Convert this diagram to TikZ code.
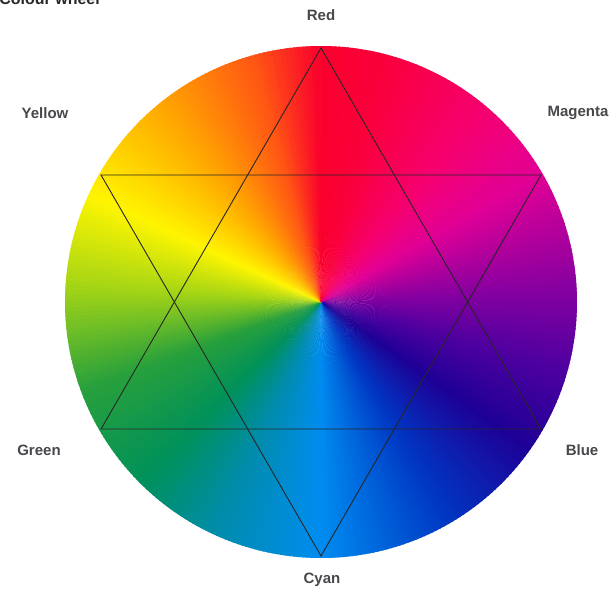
\documentclass[tikz,border=0pt]{standalone}
\usepackage{fontspec}
\setmainfont{Liberation Sans}
\definecolor{lbl}{RGB}{72,72,76}
\definecolor{ttl}{RGB}{40,40,44}
\definecolor{sA}{RGB}{250,0,45}
\definecolor{sB}{RGB}{250,0,60}
\definecolor{sC}{RGB}{245,0,110}
\definecolor{sD}{RGB}{225,0,150}
\definecolor{sE}{RGB}{140,0,160}
\definecolor{sF}{RGB}{80,0,160}
\definecolor{sG}{RGB}{30,0,150}
\definecolor{sH}{RGB}{0,55,195}
\definecolor{sI}{RGB}{0,140,240}
\definecolor{sJ}{RGB}{0,140,170}
\definecolor{sK}{RGB}{0,145,90}
\definecolor{sL}{RGB}{40,160,60}
\definecolor{sM}{RGB}{170,215,20}
\definecolor{sN}{RGB}{255,245,0}
\definecolor{sO}{RGB}{255,170,0}
\definecolor{sP}{RGB}{255,85,20}
\tikzset{
  lab/.style={font=\fontsize{15}{18}\selectfont\bfseries, text=lbl, inner sep=0pt},
  starline/.style={draw=black!85, line width=0.9pt, line join=miter}
}
\begin{document}
\begin{tikzpicture}[x=1pt,y=1pt]
\useasboundingbox (-321,-288) rectangle (288,302);
\fill[white] (-321,-288) rectangle (288,302);
% conic colour wheel
\foreach \a/\b/\ca/\cb in {0/15/sA/sB, 15/40/sB/sC, 40/60/sC/sD, 60/85/sD/sE, 85/105/sE/sF, 105/125/sF/sG, 125/150/sG/sH, 150/180/sH/sI, 180/205/sI/sJ, 205/225/sJ/sK, 225/250/sK/sL, 250/275/sL/sM, 275/295/sM/sN, 295/320/sN/sO, 320/345/sO/sP, 345/360/sP/sA} {
  \pgfmathtruncatemacro\n{\b-\a-1}
  \foreach \i in {0,...,\n} {
    \pgfmathtruncatemacro\p{100*(\i+0.5)/(\b-\a)}
    \pgfmathsetmacro\st{90-\a-\i+0.15}
    \pgfmathsetmacro\en{90-\a-\i-1.25}
    \fill[\cb!\p!\ca] (0,0) -- (\st:256) arc[start angle=\st, end angle=\en, radius=256] -- cycle;
  }
}
% star
\coordinate (T) at (90:254);
\coordinate (UL) at (150:254);
\coordinate (UR) at (30:254);
\coordinate (LL) at (210:254);
\coordinate (LR) at (-30:254);
\coordinate (B) at (-90:254);
\draw[starline] (T) -- (LL) -- (LR) -- cycle;
\draw[starline] (B) -- (UL) -- (UR) -- cycle;
% labels
\node[lab] (red) at (0,287) {Red};
\node[lab] (yellow) at (-276,189) {Yellow};
\node[lab] (magenta) at (257,189) {Magenta};
\node[lab] (green) at (-282,-148) {Green};
\node[lab] (blue) at (261,-148) {Blue};
\node[lab] (cyan) at (1,-278) {Cyan};
\node[font=\fontsize{16}{19}\selectfont\bfseries, text=ttl, inner sep=0pt, anchor=base east] (title) at (-221,298) {Colour wheel};
\end{tikzpicture}
\end{document}
